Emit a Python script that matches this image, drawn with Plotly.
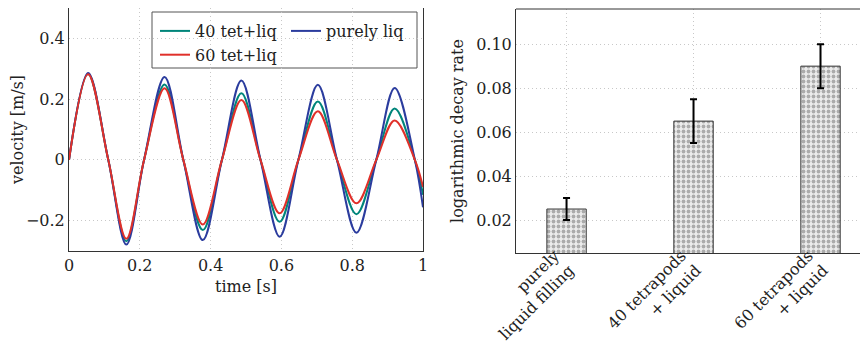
import plotly.graph_objects as go

# ---- left panel: velocity time series (zero crossings, peaks, troughs)
time_s = [0, 0.054, 0.111, 0.162, 0.212, 0.27, 0.323, 0.378, 0.432, 0.487,
          0.541, 0.595, 0.648, 0.703, 0.757, 0.812, 0.868, 0.92, 0.977, 1.0]
vel_40 = [0, 0.283, 0, -0.268, 0, 0.248, 0, -0.231, 0, 0.219,
          0, -0.204, 0, 0.192, 0, -0.179, 0, 0.169, 0, -0.115]
vel_liq = [0, 0.286, 0, -0.279, 0, 0.273, 0, -0.264, 0, 0.261,
           0, -0.253, 0, 0.247, 0, -0.240, 0, 0.237, 0, -0.156]
vel_60 = [0, 0.282, 0, -0.260, 0, 0.236, 0, -0.213, 0, 0.197,
          0, -0.176, 0, 0.160, 0, -0.143, 0, 0.130, 0, -0.089]
series_names = ["40 tet+liq", "purely liq", "60 tet+liq"]

# ---- right panel: logarithmic decay rate
categories = ["purely<br>liquid filling", "40 tetrapods<br>+ liquid", "60 tetrapods<br>+ liquid"]
decay_rate = [0.025, 0.065, 0.090]
decay_err = [0.005, 0.010, 0.010]

TEAL = "#00857a"
BLUE = "#2b3c9e"
RED = "#e0302a"
FONT = "DejaVu Serif"
GRID = "#c8c8c8"
FRAME = "#333333"

# page body has an 8px margin: figure is placed at (8, 8) in the window
W, H, OFF = 860, 344, 8


def px(x):
    return (x - OFF) / W


def py(y):
    return 1 - (y - OFF) / H


fig = go.Figure()
for name, vals, col, lg in [(series_names[0], vel_40, TEAL, "legend"),
                            (series_names[1], vel_liq, BLUE, "legend2"),
                            (series_names[2], vel_60, RED, "legend")]:
    fig.add_trace(go.Scatter(x=time_s, y=vals, mode="lines", name=name,
                             line=dict(color=col, width=2, shape="spline", smoothing=1.0),
                             xaxis="x", yaxis="y", legend=lg))

fig.add_trace(go.Bar(x=[0, 1, 2], y=decay_rate, width=0.31, showlegend=False,
                     xaxis="x2", yaxis="y2",
                     marker=dict(color="#ececec",
                                 line=dict(color=FRAME, width=1),
                                 pattern=dict(shape=".", fgcolor="#6a6a6a", bgcolor="#ececec",
                                              size=5, solidity=0.45)),
                     error_y=dict(type="data", array=decay_err, color="black",
                                  thickness=2, width=3.5)))

axis_common = dict(showgrid=True, gridcolor=GRID, griddash="1px,3px", gridwidth=1,
                   zeroline=False, ticks="", automargin=False,
                   tickfont=dict(family=FONT, size=16, color="#222"),
                   title_font=dict(family=FONT, size=16, color="#222"))

fig.update_layout(
    width=W, height=H, margin=dict(l=0, r=0, t=0, b=0, autoexpand=False),
    paper_bgcolor="white", plot_bgcolor="white",
    font=dict(family=FONT, size=16, color="#222"),
    xaxis=dict(domain=[px(69), px(423)], range=[0, 1], dtick=0.2, tick0=0,
               showline=True, linecolor=FRAME, linewidth=1, mirror=True,
               title=dict(text="time [s]", standoff=6), anchor="y", **axis_common),
    yaxis=dict(domain=[py(251), py(8)], range=[-0.3, 0.5], dtick=0.2, tick0=0,
               showline=True, linecolor=FRAME, linewidth=1, mirror=True,
               title=dict(text="velocity [m/s]", standoff=6), anchor="x", **axis_common),
    xaxis2=dict(domain=[px(516), 1.0], range=[-0.398, 2.374],
                tickvals=[0, 1, 2], ticktext=categories, tickangle=-45,
                ticklabelstandoff=-14, ticklabelshift=-12,
                showline=True, linecolor=FRAME, linewidth=1, anchor="y2", **axis_common),
    yaxis2=dict(domain=[py(253), py(9)], range=[0.005, 0.116],
                tickvals=[0.02, 0.04, 0.06, 0.08, 0.10], tickformat=".2f",
                showline=True, linecolor=FRAME, linewidth=1, anchor="x2",
                title=dict(text="logarithmic decay rate", standoff=8), **axis_common),
    legend=dict(x=px(155), y=py(14), xanchor="left", yanchor="top",
                bgcolor="rgba(0,0,0,0)", borderwidth=0, tracegroupgap=0,
                font=dict(family=FONT, size=16, color="#222")),
    legend2=dict(x=px(286), y=py(14), xanchor="left", yanchor="top",
                 bgcolor="rgba(0,0,0,0)", borderwidth=0,
                 font=dict(family=FONT, size=16, color="#222")),
    showlegend=True,
    shapes=[
        dict(type="rect", xref="paper", yref="paper", x0=px(152), x1=px(417),
             y0=py(68), y1=py(12), line=dict(color="#555", width=1), fillcolor="white",
             layer="below"),
        dict(type="line", xref="x2 domain", yref="y2 domain", x0=0, x1=1, y0=1, y1=1,
             line=dict(color=FRAME, width=1)),
    ],
)

fig.write_html("out.html")
